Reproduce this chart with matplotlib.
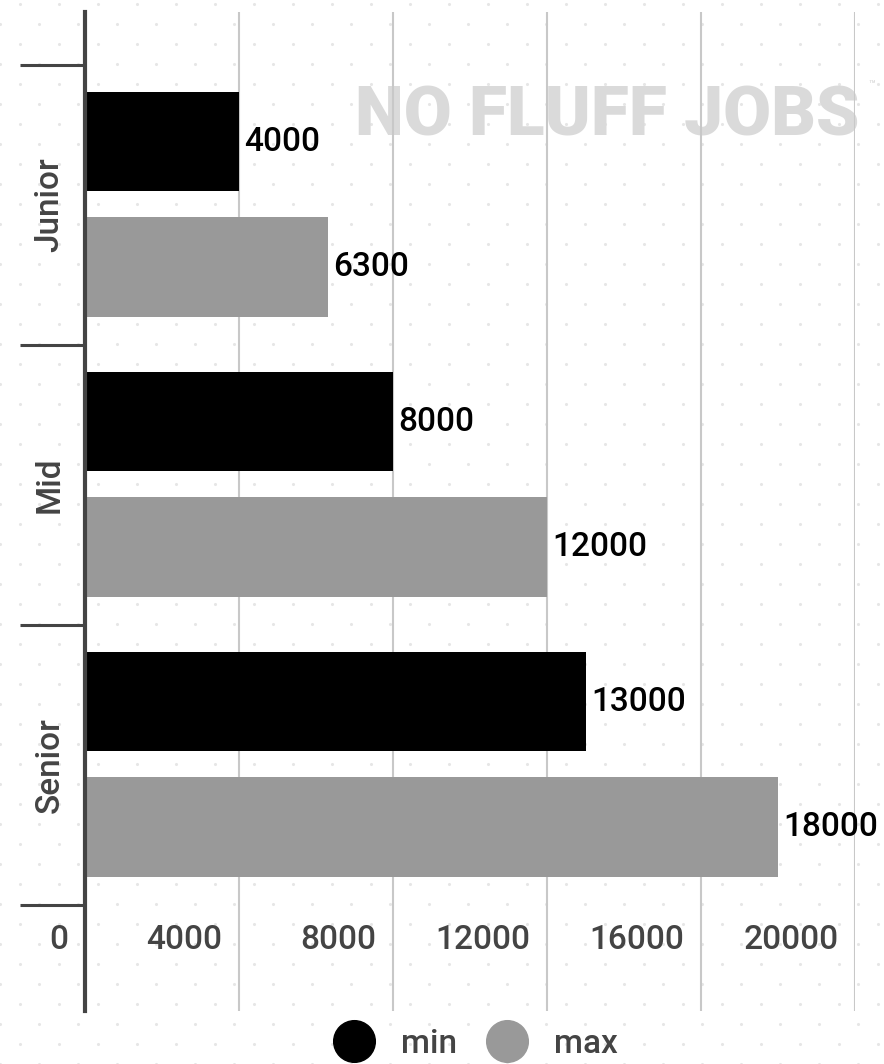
import matplotlib
matplotlib.use('Agg')
import matplotlib.pyplot as plt
from matplotlib.lines import Line2D
import numpy as np

plt.rcParams['font.family'] = ['Roboto', 'DejaVu Sans']
plt.rcParams['font.weight'] = 'medium'

levels = ['Senior', 'Mid', 'Junior']
min_vals = [13000, 8000, 4000]
max_vals = [18000, 12000, 6300]
x_ticks = [0, 4000, 8000, 12000, 16000, 20000]

dark = '#444444'
fig = plt.figure(figsize=(8.84, 10.64), dpi=100)

# faint dotted background
bg = fig.add_axes([0, 0, 1, 1], zorder=-5)
bg.set_xlim(0, 884)
bg.set_ylim(0, 1064)
bg.axis('off')
gx, gy = np.meshgrid(np.arange(0, 900, 39), np.arange(0, 1080, 20))
gx = gx + (np.arange(gy.shape[0])[:, None] % 2) * 19.5
bg.scatter(gx.ravel(), gy.ravel(), s=5, color='#e6e6e6', lw=0)

ax = fig.add_axes([85 / 884, 53 / 1064, 770 / 884, 999 / 1064])
ax.patch.set_alpha(0)
ax.set_xlim(0, 20000)
ax.set_ylim(-0.379, 3.189)

y = np.arange(len(levels)) + 0.5
h = 0.355
b1 = ax.barh(y + 0.226, min_vals, height=h, color='#000000', zorder=3)
b2 = ax.barh(y - 0.222, max_vals, height=h, color='#999999', zorder=3)
ax.bar_label(b1, padding=4, fontsize=24, fontweight='medium', color='black')
ax.bar_label(b2, padding=4, fontsize=24, fontweight='medium', color='black')

for s in ['top', 'right', 'bottom']:
    ax.spines[s].set_visible(False)
ax.spines['left'].set_color(dark)
ax.spines['left'].set_linewidth(3)
ax.spines['left'].set_zorder(4)

ax.set_xticks(x_ticks)
ax.tick_params(axis='x', length=0, labelbottom=False)
ax.xaxis.grid(True, color='#c8c8c8', lw=1.5, zorder=1)
ax.set_axisbelow(True)

ax.set_yticks([0, 1, 2, 3])
ax.set_yticklabels([])
ax.tick_params(axis='y', which='major', length=47, width=2.2, color=dark, direction='out')
ax.set_yticks(y, minor=True)
ax.set_yticklabels(levels, minor=True, rotation=90, va='center', fontsize=24,
                   color=dark, fontweight='medium')
ax.tick_params(axis='y', which='minor', length=0, pad=14)

for v in x_ticks:
    ax.annotate(str(v), (v, -0.125), xytext=(-12, 0), textcoords='offset points',
                ha='right', va='center', fontsize=24, color=dark, fontweight='medium')

# watermark
ax.text(355 / 884, (1064 - 135) / 1064, 'NO FLUFF JOBS', transform=fig.transFigure,
        fontsize=50, fontweight='black', color='#dadada', va='baseline', ha='left', zorder=0.5)
ax.text(868 / 884, (1064 - 88) / 1064, '™', transform=fig.transFigure,
        fontsize=8, color='#dadada', va='baseline', ha='left', zorder=0.5)

handles = [Line2D([], [], ls='', marker='o', markersize=30, color='#000000'),
           Line2D([], [], ls='', marker='o', markersize=30, color='#999999')]
fig.legend(handles, ['min', 'max'], loc='center', bbox_to_anchor=(475 / 884, 20 / 1064),
           ncol=2, frameon=False, labelcolor=dark, handlelength=1.3,
           handletextpad=0.75, columnspacing=0.85, borderpad=0,
           prop={'size': 24, 'weight': 'medium'})

fig.savefig('out.png', dpi=100, facecolor='white')
